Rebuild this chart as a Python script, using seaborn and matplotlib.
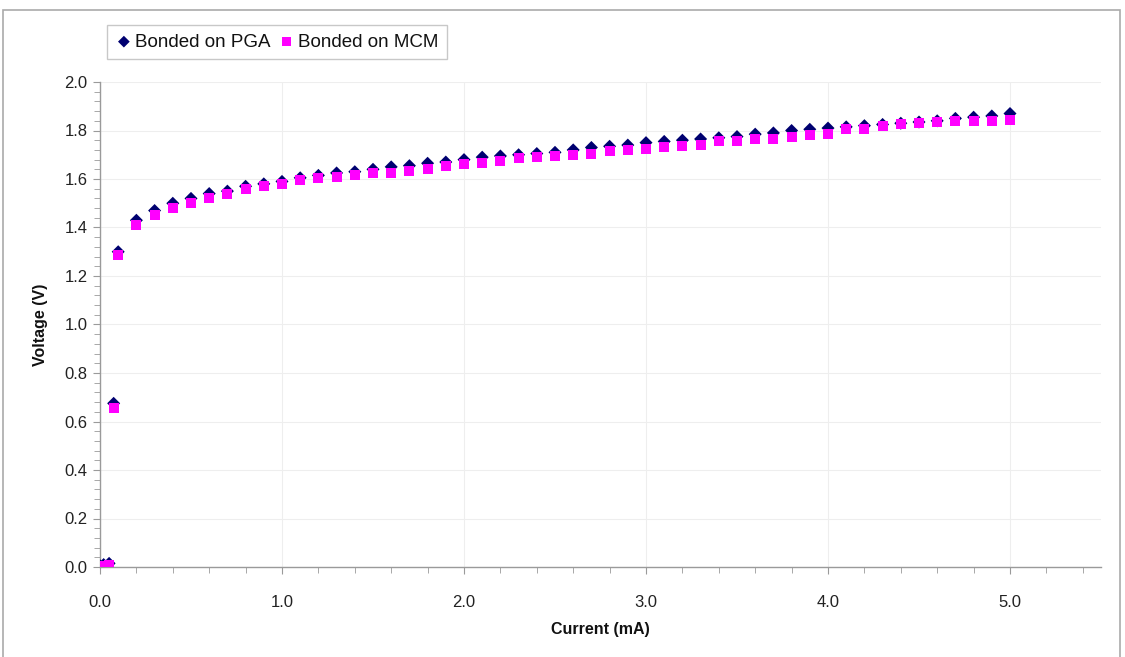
import numpy as np
import pandas as pd
import matplotlib
matplotlib.use("Agg")
import matplotlib.pyplot as plt
from matplotlib.patches import Rectangle
from matplotlib.ticker import MultipleLocator, FormatStrFormatter
import seaborn as sns

# Forward I-V sweep of the diode, two bonding variants
current_ma = [0.0, 0.02, 0.05, 0.075, 0.1,
              0.2, 0.3, 0.4, 0.5, 0.6, 0.7, 0.8, 0.9, 1.0,
              1.1, 1.2, 1.3, 1.4, 1.5, 1.6, 1.7, 1.8, 1.9, 2.0,
              2.1, 2.2, 2.3, 2.4, 2.5, 2.6, 2.7, 2.8, 2.9, 3.0,
              3.1, 3.2, 3.3, 3.4, 3.5, 3.6, 3.7, 3.8, 3.9, 4.0,
              4.1, 4.2, 4.3, 4.4, 4.5, 4.6, 4.7, 4.8, 4.9, 5.0]

v_pga = [0.005, 0.01, 0.015, 0.675, 1.300,
         1.430, 1.470, 1.500, 1.520, 1.540, 1.550, 1.570, 1.580, 1.590,
         1.605, 1.615, 1.625, 1.630, 1.640, 1.650, 1.655, 1.665, 1.670, 1.680,
         1.690, 1.695, 1.700, 1.705, 1.710, 1.720, 1.730, 1.735, 1.740, 1.750,
         1.755, 1.760, 1.765, 1.770, 1.775, 1.785, 1.790, 1.800, 1.805, 1.810,
         1.815, 1.820, 1.825, 1.830, 1.835, 1.840, 1.850, 1.855, 1.860, 1.870]

v_mcm = [0.000, 0.005, 0.010, 0.655, 1.285,
         1.410, 1.450, 1.480, 1.500, 1.520, 1.540, 1.560, 1.570, 1.580,
         1.595, 1.605, 1.610, 1.615, 1.625, 1.625, 1.635, 1.640, 1.655, 1.660,
         1.665, 1.675, 1.685, 1.690, 1.695, 1.700, 1.705, 1.715, 1.720, 1.725,
         1.730, 1.735, 1.740, 1.755, 1.755, 1.765, 1.765, 1.775, 1.780, 1.785,
         1.805, 1.805, 1.820, 1.825, 1.830, 1.835, 1.840, 1.840, 1.840, 1.845]

series_names = ["Bonded on PGA", "Bonded on MCM"]
series_colors = ["#000070", "#FF00FF"]

df = pd.DataFrame({
    "Current (mA)": current_ma * 2,
    "Voltage (V)": v_pga + v_mcm,
    "series": [series_names[0]] * len(current_ma) + [series_names[1]] * len(current_ma),
})

sns.set_theme(style="white")
plt.rcParams["font.family"] = ["Liberation Sans", "DejaVu Sans"]

fig = plt.figure(figsize=(11.25, 6.57), dpi=100)
W, H = 1125, 657
ax = fig.add_axes([100 / W, 1 - 567 / H, (1101 - 100) / W, (567 - 82) / H])

sns.scatterplot(data=df[df.series == series_names[0]], x="Current (mA)", y="Voltage (V)",
                marker="D", s=44, color=series_colors[0], edgecolor="none",
                label=series_names[0], ax=ax, zorder=3)
sns.scatterplot(data=df[df.series == series_names[1]], x="Current (mA)", y="Voltage (V)",
                marker="s", s=52, color=series_colors[1], edgecolor="none",
                label=series_names[1], ax=ax, zorder=4)

ax.set_xlim(0, 5.5)
ax.set_ylim(0, 2.0)
ax.xaxis.set_major_locator(MultipleLocator(1.0))
ax.xaxis.set_minor_locator(MultipleLocator(0.2))
ax.yaxis.set_major_locator(MultipleLocator(0.2))
ax.yaxis.set_minor_locator(MultipleLocator(0.04))
ax.xaxis.set_major_formatter(FormatStrFormatter("%.1f"))
ax.yaxis.set_major_formatter(FormatStrFormatter("%.1f"))

ax.grid(True, which="major", color="#eeeeee", linewidth=0.8)
ax.set_axisbelow(True)
for side in ["top", "right"]:
    ax.spines[side].set_visible(False)
for side in ["left", "bottom"]:
    ax.spines[side].set_color("#9a9a9a")
    ax.spines[side].set_linewidth(1.0)

ax.tick_params(axis="both", which="both", direction="out", color="#9a9a9a",
               bottom=True, left=True, labelsize=12, labelcolor="#222222")
ax.tick_params(axis="both", which="major", length=5, width=0.8)
ax.tick_params(axis="both", which="minor", length=4, width=0.6)
ax.tick_params(axis="x", which="major", pad=15)
ax.tick_params(axis="y", which="major", pad=4)

ax.set_xlabel("Current (mA)", fontsize=11.5, fontweight="bold", color="#111111", labelpad=9)
ax.set_ylabel("Voltage (V)", fontsize=11.5, fontweight="bold", color="#111111", labelpad=12)

leg = ax.legend(loc="upper left", bbox_to_anchor=(107 / W, 1 - 25 / H),
                bbox_transform=fig.transFigure, ncol=2, frameon=True, fancybox=False,
                fontsize=13.5, handletextpad=0.15, columnspacing=0.4, borderpad=0.45,
                handlelength=0.9, borderaxespad=0, markerscale=0.9)
leg.get_frame().set_edgecolor("#bbbbbb")
leg.get_frame().set_linewidth(1.0)
for txt in leg.get_texts():
    txt.set_color("#111111")

# outer chart-area border
fig.patches.append(Rectangle((3 / W, -0.02), (1120 - 3) / W, 1 - 10 / H + 0.02,
                             transform=fig.transFigure, fill=False,
                             edgecolor="#aaaaaa", linewidth=1.2))

fig.savefig("out.png", dpi=100)
